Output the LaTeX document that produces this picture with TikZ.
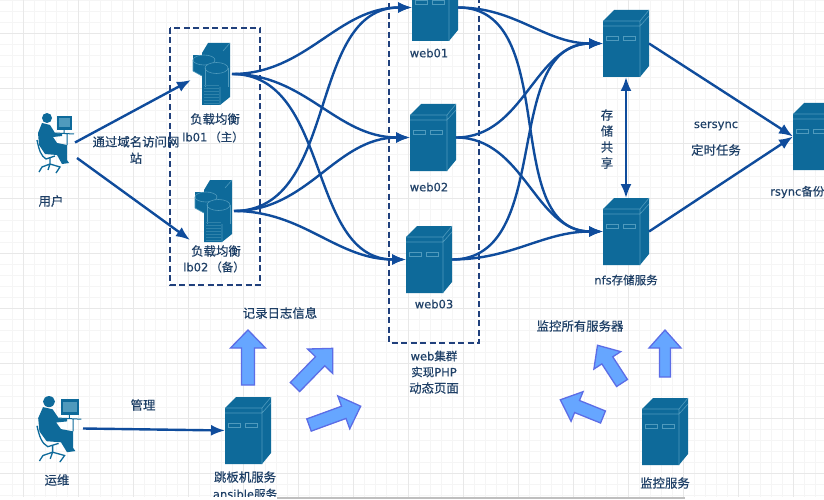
\documentclass[tikz,border=0pt]{standalone}
\usepackage{fontspec}
\setmainfont[FakeBold=0.35]{DejaVu Sans}
\newfontfamily\cjk[FakeBold=0.35]{Noto Sans CJK SC}
\usetikzlibrary{arrows.meta}
\definecolor{srvblue}{HTML}{0E6A9A}
\definecolor{srvline}{HTML}{4F9ABD}
\definecolor{srvrib}{HTML}{2F82AA}
\definecolor{linkblue}{HTML}{0F4C9C}
\definecolor{txtnavy}{HTML}{1E3F66}
\definecolor{dashnavy}{HTML}{20407C}
\definecolor{gridmin}{HTML}{F5F5F5}
\definecolor{gridmaj}{HTML}{E8E8E8}
\definecolor{arrowfill}{HTML}{66A6FF}
\definecolor{arrowedge}{HTML}{5C6DE6}
\tikzset{
  link/.style={draw=linkblue,line width=2.4pt,-{Latex[length=14pt,width=11pt]}},
  linkboth/.style={draw=linkblue,line width=2.4pt,{Latex[length=14pt,width=11pt]}-{Latex[length=14pt,width=11pt]}},
  curve/.style={link,out=0,in=180},
  hold/.style={inner sep=0pt,outer sep=0pt,draw=none},
  lbl/.style={font=\fontsize{11.5}{13}\selectfont,text=txtnavy,inner sep=0pt,align=center},
  zh/.style={font=\cjk\fontsize{12.4}{16.5}\selectfont,text=txtnavy,inner sep=0pt,align=center},
  dashbox/.style={draw=dashnavy,line width=1.6pt,dash pattern=on 6pt off 3.5pt},
  blockarr/.style={draw=arrowedge,fill=arrowfill,line width=1.3pt,line join=miter},
  srvface/.style={fill=srvblue,draw=none},
  srvedge/.style={draw=srvline,line width=0.6pt},
}
% name, front left x, front top y
\newcommand{\serverbox}[3]{%
  \node[hold,minimum width=46pt,minimum height=67pt] (#1) at (#2+23,#3+22.5) {};
  \begin{scope}[shift={(#2,#3)}]
    \fill[srvface] (0,0) -- (11,-11) -- (46,-11) -- (46,45) -- (37,56) -- (0,56) -- cycle;
    \draw[srvedge] (0,0) -- (37,0) -- (46,-11) (37,0) -- (37,56) (0,5) -- (37,5) -- (46,-5);
    \draw[srvedge] (3,15) rectangle (15,19) (20,15) rectangle (32,19);
  \end{scope}}
% name, tower left x (of back cylinder), top y
\newcommand{\dbtower}[3]{%
  \node[hold,minimum width=39pt,minimum height=62pt] (#1) at (#2+19.5,#3+31) {};
  \begin{scope}[shift={(#2,#3)}]
    \fill[srvface] (9,10) -- (15,0) -- (37,0) -- (37,54) -- (27,62) -- (9,62) -- cycle;
    \fill[srvface] (0,12) rectangle (22,28);
    \fill[srvface] (0,28) -- (9,33) -- (22,33) -- (22,28) -- cycle;
    \fill[srvface] (11,17) ellipse[x radius=11,y radius=5];
    \draw[srvedge] (11,17) ellipse[x radius=11,y radius=5];
    \draw[srvedge] (0,17) -- (0,28) -- (9,33);
    \fill[srvface] (12,25) rectangle (35,44);
    \fill[srvface] (23.5,25) ellipse[x radius=11.5,y radius=5.5];
    \draw[srvedge] (23.5,25) ellipse[x radius=11.5,y radius=5.5];
    \draw[srvedge] (12,25) -- (12,44) (35,25) -- (35,44);
    \draw[srvedge] (27,44) -- (27,62) (37,0) -- (30,8);
    \foreach \v in {42,45,...,62} {\draw[srvrib,line width=0.35pt] (11,\v) -- (26,\v);}
  \end{scope}}
% drawn relative to the icon's top-left corner
\newcommand{\personshape}{%
  \fill[srvface] (10,6) circle[radius=5];
  \fill[srvface] (1,21) -- (5,11) -- (13,13) -- (18,21) -- (25,22) -- (25,24) -- (16,25) -- (20,31) -- (30,33) -- (30,48) -- (32,51) -- (25,52) -- (20,43) -- (8,42) -- (2,33) -- cycle;
  \draw[srvblue,line width=1.3pt] (0,28) .. controls (2,38) and (4,44) .. (9,47) -- (18,44);
  \draw[srvblue,line width=1.3pt] (13,46) -- (13,52) (2,60) -- (5,55) -- (13,52) -- (23,55) -- (19,61) (13,52) -- (11,58);
  \fill[srvface] (20,4) rectangle (35,18);
  \fill[srvline] (22,6) rectangle (33,15);
  \draw[srvblue,line width=1pt] (18,21) -- (37,22) (27,18) -- (27,21) (30,22) -- (30,33);
}
% tail x, tail y, angle, length, head half width, shaft half width
\newcommand{\blockarrow}[6]{%
  \draw[blockarr,shift={(#1,#2)},rotate=#3]
    (0pt,-#6pt) -- ({(#4-18)*1pt},-#6pt) -- ({(#4-18)*1pt},-#5pt) -- ({#4*1pt},0pt)
    -- ({(#4-18)*1pt},#5pt) -- ({(#4-18)*1pt},#6pt) -- (0pt,#6pt) -- cycle;}
\begin{document}
\begin{tikzpicture}[x=1pt,y=-1pt]
\useasboundingbox (0,0) rectangle (824,500);
\fill[white] (0,0) rectangle (824,500);
% grid
\foreach \k in {1,...,75} {\draw[gridmin,line width=0.5pt] (\k*11+1,0) -- (\k*11+1,497);}
\foreach \k in {0,...,45} {\draw[gridmin,line width=0.5pt] (0,\k*11) -- (824,\k*11);}
\foreach \k in {0,...,14} {\draw[gridmaj,line width=0.6pt] (23+\k*55,0) -- (23+\k*55,497);}
\foreach \k in {0,...,8} {\draw[gridmaj,line width=0.6pt] (0,33+\k*55) -- (824,33+\k*55);}
% dashed groups
\draw[dashbox] (170,28) rectangle (260,285);
\draw[dashbox] (389,-6) rectangle (479,343);
% icons
\node[hold,minimum width=38pt,minimum height=61pt] (user) at (56,142.5) {};
\begin{scope}[shift={(37,112)}]\personshape\end{scope}
\node[hold,minimum width=46pt,minimum height=67pt] (op) at (60,428.5) {};
\begin{scope}[shift={(37,395)},xscale=1.2,yscale=1.1]\personshape\end{scope}
\dbtower{lb01}{193}{43}
\dbtower{lb02}{195}{180}
\serverbox{web01}{412}{-15}
\serverbox{web02}{410}{115}
\serverbox{web03}{406}{237}
\serverbox{nfstop}{603}{21}
\serverbox{nfs}{603}{209}
\serverbox{rsync}{793}{114}
\serverbox{jump}{225}{408}
\serverbox{monitor}{642}{409}
\coordinate (userlow) at (77,158);
\coordinate (lb01in) at (191,80);
\coordinate (lb02in) at (190,240);
% connectors
\draw[link] (user.east) -- (lb01in);
\draw[link] (userlow) -- (lb02in);
\draw[link] (lb01.east) to[curve] (web01.west);
\draw[link] (lb01.east) to[curve] (web02.west);
\draw[link] (lb01.east) to[curve] (web03.west);
\draw[link] (lb02.east) to[curve] (web01.west);
\draw[link] (lb02.east) to[curve] (web02.west);
\draw[link] (lb02.east) to[curve] (web03.west);
\draw[link] (web01.east) to[curve] (nfstop.west);
\draw[link] (web01.east) to[curve] (nfs.west);
\draw[link] (web02.east) to[curve] (nfstop.west);
\draw[link] (web02.east) to[curve] (nfs.west);
\draw[link] (web03.east) to[curve] (nfstop.west);
\draw[link] (web03.east) to[curve] (nfs.west);
\draw[link] (nfstop.east) -- (rsync.west);
\draw[link] (nfs.east) -- (rsync.west);
\draw[linkboth] (nfstop.south) -- (nfs.north);
\draw[link] (op.east) -- (jump.west);
% block arrows
\blockarrow{248}{385}{90}{55}{17.5}{6.5}
\blockarrow{295}{387}{45.7}{54}{17.5}{6.5}
\blockarrow{309}{425}{20}{55}{17.5}{6.5}
\blockarrow{665}{377}{90}{47}{16}{5.5}
\blockarrow{622}{383}{123}{45}{16}{6.5}
\blockarrow{603}{417}{158}{46}{16}{6.5}
% labels
\node[zh] (tuser) at (51,201) {用户};
\node[zh] (tvisit) at (136,150) {通过域名访问网\\站};
\node[zh] (tlb1a) at (215,119) {负载均衡};
\node[lbl] (tlb1b) at (213,137) {lb01\,{\cjk（主）}};
\node[zh] (tlb2a) at (216,251) {负载均衡};
\node[lbl] (tlb2b) at (214,267) {lb02\,{\cjk（备）}};
\node[lbl] (tw1) at (429,53) {web01};
\node[lbl] (tw2) at (429,187) {web02};
\node[lbl] (tw3) at (434,304) {web03};
\node[lbl] (tw4) at (434,356) {web{\cjk 集群}};
\node[lbl] (tw5) at (434,372) {{\cjk 实现}PHP};
\node[zh] (tw6) at (434,388) {动态页面};
\node[zh] (ts1) at (607,115) {存};
\node[zh] (ts2) at (607,131) {储};
\node[zh] (ts3) at (607,147) {共};
\node[zh] (ts4) at (607,163) {享};
\node[lbl] (tsy) at (716,126) {sersync};
\node[zh] (tdt) at (716,150) {定时任务};
\node[lbl,anchor=west] (trs) at (770,192) {rsync{\cjk 备份}};
\node[lbl] (tnfs) at (626,280) {nfs{\cjk 存储服务}};
\node[zh] (tlog) at (280,313) {记录日志信息};
\node[zh] (tmg) at (143,405) {管理};
\node[zh] (tyw) at (57,480) {运维};
\node[zh] (tj1) at (245,477) {跳板机服务};
\node[lbl] (tj2) at (245,494) {ansible{\cjk 服务}};
\node[zh] (tmon) at (580,326) {监控所有服务器};
\node[zh] (tms) at (665,483) {监控服务};
% lower edge of the screenshot
\fill[white] (0,497) rectangle (824,500);
\draw[black!25,line width=1.5pt] (277,498) -- (685,498);
\end{tikzpicture}
\end{document}
